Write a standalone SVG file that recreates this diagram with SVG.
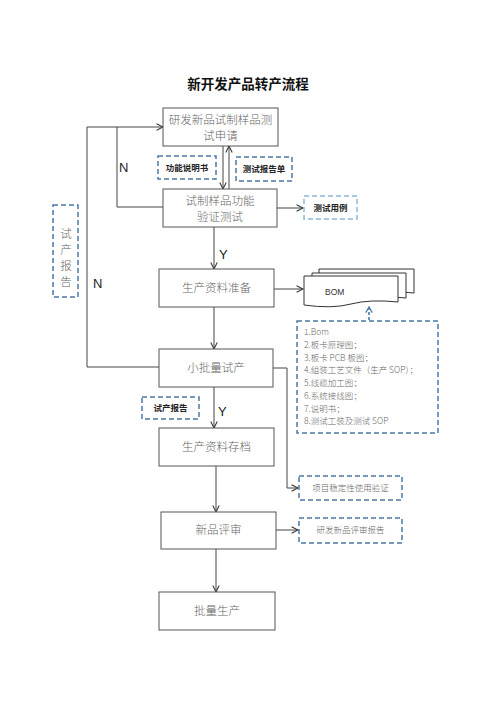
<svg xmlns="http://www.w3.org/2000/svg" width="496" height="702" viewBox="0 0 496 702">
<defs>
<marker id="arr" viewBox="0 0 10 10" refX="9" refY="5" markerWidth="8" markerHeight="8" markerUnits="userSpaceOnUse" orient="auto">
<polyline points="1,1 9,5 1,9" fill="none" stroke="#333" stroke-width="1.3"/>
</marker>
<marker id="arrb" viewBox="0 0 10 10" refX="8" refY="5" markerWidth="8" markerHeight="8" markerUnits="userSpaceOnUse" orient="auto">
<polyline points="1,1 8,5 1,9" fill="none" stroke="#4a78a8" stroke-width="1.6"/>
</marker>
</defs>
<style>
.box{fill:#fff;stroke:#555;stroke-width:1}
.bt{font-family:"Noto Sans CJK SC","Liberation Serif",serif;font-size:11.5px;font-weight:300;fill:#666;text-anchor:middle}
.dash{fill:#fff;stroke:#4a78a8;stroke-width:1.5;stroke-dasharray:5,3}
.dashl{fill:#fff;stroke:#8ab8dc;stroke-width:1.5;stroke-dasharray:5,3}
.lb{font-family:"Noto Sans CJK SC",sans-serif;font-size:8.5px;font-weight:bold;fill:#222;text-anchor:middle}
.ln{fill:none;stroke:#444;stroke-width:1}
.yn{font-family:"Liberation Sans",sans-serif;font-size:13px;fill:#222}
.st{font-family:"Noto Sans CJK SC","Liberation Serif",serif;font-size:8.5px;font-weight:300;fill:#666}
</style>
<text x="248" y="89" font-family="Noto Sans CJK SC, sans-serif" font-size="13.5" font-weight="bold" fill="#111" text-anchor="middle">新开发产品转产流程</text>

<g id="connectors">
<line class="ln" x1="223" y1="146" x2="223" y2="189" marker-end="url(#arr)"/>
<line class="ln" x1="229" y1="189" x2="229" y2="146" marker-end="url(#arr)"/>
<polyline class="ln" points="163,207 117,207 117,127"/>
<polyline class="ln" points="159,367 87,367 87,127 163,127" marker-end="url(#arr)"/>
<line class="ln" x1="277" y1="208" x2="303" y2="208" marker-end="url(#arr)"/>
<line class="ln" x1="214" y1="227" x2="214" y2="269" marker-end="url(#arr)"/>
<line class="ln" x1="274" y1="289" x2="303" y2="289" marker-end="url(#arr)"/>
<line class="ln" x1="214" y1="307" x2="214" y2="349" marker-end="url(#arr)"/>
<line class="ln" x1="214" y1="387" x2="214" y2="428" marker-end="url(#arr)"/>
<polyline class="ln" points="273,368 287,368 287,488 298,488" marker-end="url(#arr)"/>
<line class="ln" x1="216" y1="466" x2="216" y2="512" marker-end="url(#arr)"/>
<line class="ln" x1="276" y1="530" x2="298" y2="530" marker-end="url(#arr)"/>
<line class="ln" x1="216" y1="549" x2="216" y2="592" marker-end="url(#arr)"/>
<line x1="369" y1="320" x2="369" y2="307" fill="none" stroke="#4a78a8" stroke-width="1.6" stroke-dasharray="3,2" marker-end="url(#arrb)"/>
<text class="yn" x="119" y="172">N</text>
<text class="yn" x="93" y="288">N</text>
<text class="yn" x="219" y="259">Y</text>
<text class="yn" x="218" y="416">Y</text>
</g>

<g id="n1"><rect class="box" x="163" y="108" width="115" height="38"/>
<text class="bt" x="220.5" y="124">研发新品试制样品测</text><text class="bt" x="220.5" y="140">试申请</text></g>
<g id="n2"><rect class="box" x="163" y="189" width="114" height="38"/>
<text class="bt" x="220" y="205">试制样品功能</text><text class="bt" x="220" y="221">验证测试</text></g>
<g id="n3"><rect class="box" x="159" y="269" width="115" height="38"/>
<text class="bt" x="216.5" y="292">生产资料准备</text></g>
<g id="n4"><rect class="box" x="159" y="349" width="114" height="38"/>
<text class="bt" x="216" y="372">小批量试产</text></g>
<g id="n5"><rect class="box" x="159" y="428" width="115" height="38"/>
<text class="bt" x="216.5" y="451">生产资料存档</text></g>
<g id="n6"><rect class="box" x="161" y="512" width="115" height="37"/>
<text class="bt" x="218.5" y="534">新品评审</text></g>
<g id="n7"><rect class="box" x="159" y="592" width="116" height="38"/>
<text class="bt" x="217" y="615">批量生产</text></g>

<g id="d1"><rect class="dash" x="158" y="156" width="58" height="23"/><text class="lb" x="187" y="171">功能说明书</text></g>
<g id="d2"><rect class="dash" x="236" y="157" width="56" height="24"/><text class="lb" x="264" y="172">测试报告单</text></g>
<g id="d3"><rect class="dashl" x="304" y="196" width="53" height="23"/><text class="lb" x="330.5" y="211">测试用例</text></g>
<g id="d4"><rect class="dash" x="142" y="397" width="57" height="22"/><text class="lb" x="170.5" y="411">试产报告</text></g>
<g id="d5"><rect class="dash" x="53" y="205" width="25" height="92"/>
<text class="bt" x="66" y="238" font-size="11">试</text><text class="bt" x="66" y="254" font-size="11">产</text><text class="bt" x="66" y="270" font-size="11">报</text><text class="bt" x="66" y="286" font-size="11">告</text></g>
<g id="d6"><rect class="dash" x="299" y="476" width="103" height="24"/><text class="st" x="350.5" y="491" text-anchor="middle">项目稳定性使用验证</text></g>
<g id="d7"><rect class="dash" x="299" y="518" width="103" height="25"/><text class="st" x="350.5" y="533" text-anchor="middle">研发新品评审报告</text></g>

<g id="bom">
<path d="M319,269 H414 V293 Q385,290 366,294 T319,295 Z" fill="#fff" stroke="#333" stroke-width="1"/>
<path d="M312,273 H406 V298 Q378,295 359,299 T312,300 Z" fill="#fff" stroke="#333" stroke-width="1"/>
<path d="M304,276 H398 V302 Q370,299 351,304 T304,305 Z" fill="#fff" stroke="#333" stroke-width="1"/>
<text x="325" y="295" font-family="Liberation Sans, sans-serif" font-size="8.5" fill="#333">BOM</text>
</g>

<g id="list">
<rect class="dash" x="297" y="321" width="141" height="112"/>
<text class="st" x="304" y="335">1.Bom</text>
<text class="st" x="304" y="348">2.板卡原理图；</text>
<text class="st" x="304" y="361">3.板卡 PCB 板图；</text>
<text class="st" x="304" y="373">4.组装工艺文件（生产 SOP）；</text>
<text class="st" x="304" y="386">5.线缆加工图；</text>
<text class="st" x="304" y="399">6.系统接线图；</text>
<text class="st" x="304" y="412">7.说明书；</text>
<text class="st" x="304" y="424">8.测试工装及测试 SOP</text>
</g>
</svg>
